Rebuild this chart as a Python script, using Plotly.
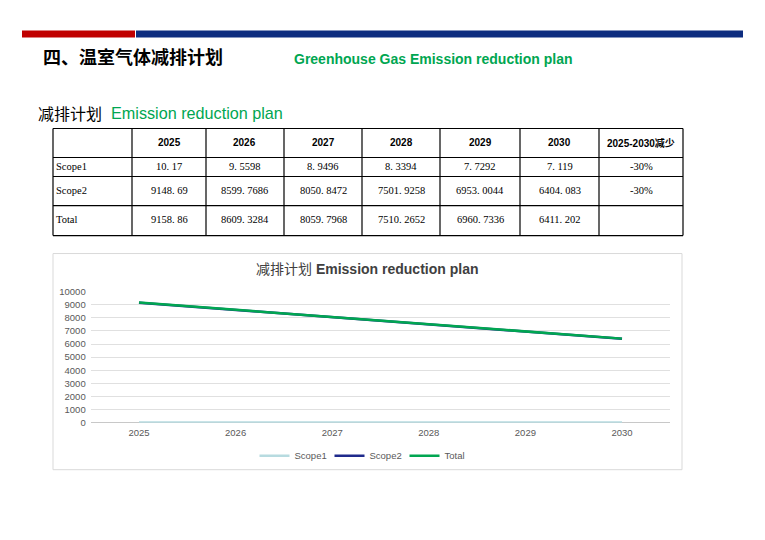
import plotly.graph_objects as go

W, H = 765, 540

years = ["2025", "2026", "2027", "2028", "2029", "2030"]
scope1 = [10.17, 9.5598, 8.9496, 8.3394, 7.7292, 7.119]
scope2 = [9148.69, 8599.7686, 8050.8472, 7501.9258, 6953.0044, 6404.083]
total = [9158.86, 8609.3284, 8059.7968, 7510.2652, 6960.7336, 6411.202]

scope1_txt = ["10. 17", "9. 5598", "8. 9496", "8. 3394", "7. 7292", "7. 119"]
scope2_txt = ["9148. 69", "8599. 7686", "8050. 8472", "7501. 9258", "6953. 0044", "6404. 083"]
total_txt = ["9158. 86", "8609. 3284", "8059. 7968", "7510. 2652", "6960. 7336", "6411. 202"]
reduction_header = "2025-2030<span style='font-family:Noto Sans CJK SC'>减少</span>"
reduction = ["-30%", "-30%", ""]
row_labels = ["Scope1", "Scope2", "Total"]

# layout geometry (pixels)
col_edges = [53, 132, 206, 284, 362, 440, 520, 599, 683]
row_edges = [128, 157, 176, 205, 235]

# small vertical correction for the capture
Y_SCALE, Y_OFF = 0.979, 5.6


def px(x):
    return x / W


def py(y):
    return 1 - ((y - Y_OFF) / Y_SCALE) / H


fig = go.Figure()

line_colors = {"Scope1": "#b7dbe0", "Scope2": "#1f2a8c", "Total": "#00a651"}
for name, vals in [("Scope1", scope1), ("Scope2", scope2), ("Total", total)]:
    fig.add_trace(go.Scatter(
        x=years, y=vals, mode="lines", name=name,
        line=dict(color=line_colors[name], width=2.5),
    ))

shapes = []
# header bars
shapes.append(dict(type="rect", xref="paper", yref="paper",
                   x0=px(22), x1=px(135), y0=py(37), y1=py(30),
                   fillcolor="#c00000", line=dict(width=0), layer="below"))
shapes.append(dict(type="rect", xref="paper", yref="paper",
                   x0=px(136), x1=px(743), y0=py(37), y1=py(30),
                   fillcolor="#0d2d80", line=dict(width=0), layer="below"))
# table lines
for xe in col_edges:
    shapes.append(dict(type="line", xref="paper", yref="paper",
                       x0=px(xe), x1=px(xe), y0=py(row_edges[0]), y1=py(row_edges[-1]),
                       line=dict(color="black", width=1.2)))
for ye in row_edges:
    shapes.append(dict(type="line", xref="paper", yref="paper",
                       x0=px(col_edges[0]), x1=px(col_edges[-1]), y0=py(ye), y1=py(ye),
                       line=dict(color="black", width=1.2)))
# chart frame
shapes.append(dict(type="rect", xref="paper", yref="paper",
                   x0=px(53), x1=px(682), y0=py(469), y1=py(253),
                   line=dict(color="#d9d9d9", width=1), layer="below"))

ann = []
ann.append(dict(text="<b>四、温室气体减排计划</b>", x=px(41), y=py(56), xanchor="left", yanchor="middle",
                showarrow=False, xref="paper", yref="paper",
                font=dict(family="Noto Sans CJK SC", size=18, color="black")))
ann.append(dict(text="<b>Greenhouse Gas Emission reduction plan</b>", x=px(292), y=py(59), xanchor="left",
                yanchor="middle", showarrow=False, xref="paper", yref="paper",
                font=dict(family="Liberation Sans, Arial", size=14, color="#00a651")))
ann.append(dict(text="减排计划", x=px(36), y=py(112.5), xanchor="left", yanchor="middle",
                showarrow=False, xref="paper", yref="paper",
                font=dict(family="Noto Sans CJK SC", size=16, color="black")))
ann.append(dict(text="Emission reduction plan", x=px(109), y=py(113), xanchor="left", yanchor="middle",
                showarrow=False, xref="paper", yref="paper",
                font=dict(family="Liberation Sans, Arial", size=16.2, color="#00a651")))

# table text
body_font = dict(family="Liberation Serif, Times New Roman", size=10.5, color="black")
head_font = dict(family="Liberation Sans, Arial", size=10, color="black")
centers = [(col_edges[i] + col_edges[i + 1]) / 2 for i in range(len(col_edges) - 1)]
row_mid = [(row_edges[i] + row_edges[i + 1]) / 2 - 1 for i in range(len(row_edges) - 1)]

headers = years + [reduction_header]
for i, h in enumerate(headers):
    ann.append(dict(text="<b>" + h + "</b>", x=px(centers[i + 1]), y=py(row_mid[0] + 0.5),
                    xanchor="center", yanchor="middle", showarrow=False, xref="paper", yref="paper",
                    font=head_font))
rows_txt = [scope1_txt, scope2_txt, total_txt]
for r, label in enumerate(row_labels):
    ann.append(dict(text=label, x=px(col_edges[0] + 0.5), y=py(row_mid[r + 1]),
                    xanchor="left", yanchor="middle", showarrow=False, xref="paper", yref="paper",
                    font=body_font))
    for c, t in enumerate(rows_txt[r]):
        ann.append(dict(text=t, x=px(centers[c + 1]), y=py(row_mid[r + 1]),
                        xanchor="center", yanchor="middle", showarrow=False, xref="paper", yref="paper",
                        font=body_font))
    ann.append(dict(text=reduction[r], x=px(centers[-1]), y=py(row_mid[r + 1]),
                    xanchor="center", yanchor="middle", showarrow=False, xref="paper", yref="paper",
                    font=body_font))

# chart title
ann.append(dict(text="<span style='font-family:Noto Sans CJK SC'>减排计划</span> <b>Emission reduction plan</b>",
                x=px(367), y=py(267.5), xanchor="center", yanchor="middle", showarrow=False,
                xref="paper", yref="paper",
                font=dict(family="Liberation Sans, Arial", size=14, color="#404040")))

fig.update_layout(
    width=W, height=H,
    margin=dict(l=0, r=0, t=0, b=0),
    paper_bgcolor="white", plot_bgcolor="white",
    shapes=shapes, annotations=ann,
    showlegend=True,
    legend=dict(orientation="h", x=px(367), xanchor="center", y=py(455), yanchor="middle",
                font=dict(family="Liberation Sans, Arial", size=9.5, color="#595959"),
                itemwidth=30, entrywidth=30, bgcolor="rgba(0,0,0,0)", tracegroupgap=0),
    xaxis=dict(domain=[px(90.7), px(670.3)], type="category", range=[-0.5, 5.5],
               showgrid=False, showline=False, ticks="", zeroline=False, ticklabelstandoff=3,
               tickfont=dict(family="Liberation Sans, Arial", size=9.5, color="#595959"),
               anchor="y"),
    yaxis=dict(domain=[py(422), py(291)], range=[0, 10000], dtick=1000, tickformat="d",
               showgrid=True, gridcolor="#e0e0e0", gridwidth=1,
               zeroline=True, zerolinecolor="#c8c8c8", zerolinewidth=1,
               showline=False, ticks="", ticklabelstandoff=4,
               tickfont=dict(family="Liberation Sans, Arial", size=9.5, color="#595959")),
)

fig.write_html("out.html", config={"displayModeBar": False},
               post_script="document.body.style.margin='0';document.body.style.overflow='hidden';")
